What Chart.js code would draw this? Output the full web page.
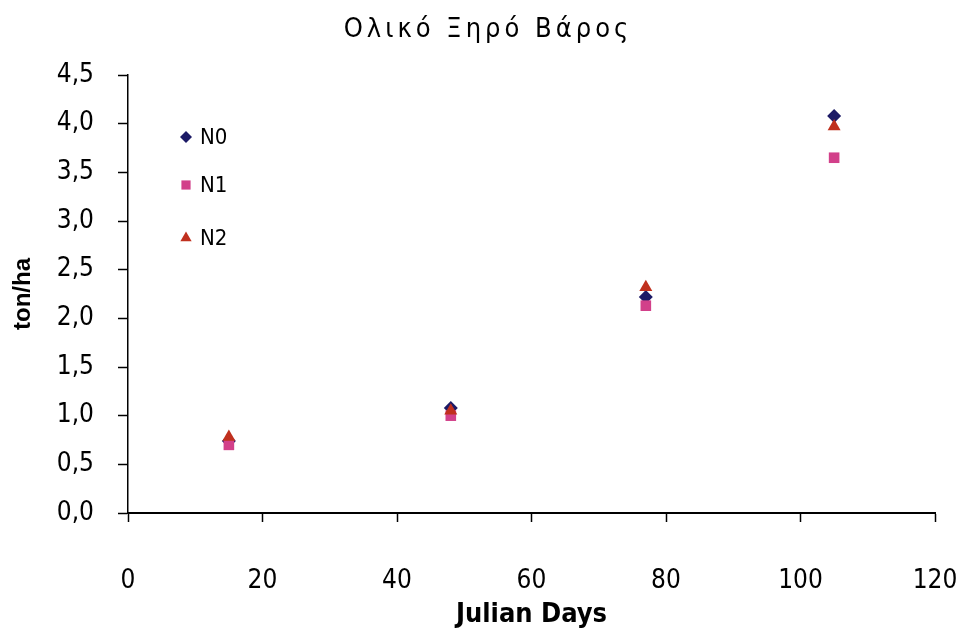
<!DOCTYPE html>
<html>
<head>
<meta charset="utf-8">
<script src="https://cdn.jsdelivr.net/npm/chart.js@4.4.1/dist/chart.umd.min.js"></script>
<style>
  html, body { margin: 0; padding: 0; background: #fff; }
</style>
</head>
<body>
<canvas id="myChart" width="962" height="633"></canvas>
<script>
// values
var chartTitle = 'Ολικό Ξηρό Βάρος';
var xTitle = 'Julian Days';
var yTitle = 'ton/ha';
var seriesNames = ['N0', 'N1', 'N2'];
var days = [15, 48, 77, 105];
var n0 = [0.74, 1.08, 2.22, 4.08];
var n1 = [0.70, 1.00, 2.13, 3.65];
var n2 = [0.78, 1.05, 2.32, 3.97];
var xTicks = [0, 20, 40, 60, 80, 100, 120];
var yTicks = [0, 0.5, 1, 1.5, 2, 2.5, 3, 3.5, 4, 4.5];

var narrow = "'Liberation Sans Narrow', 'DejaVu Sans Condensed', 'Arial Narrow', sans-serif";

function toPoints(ys) {
  return days.map(function(d, i) { return { x: d, y: ys[i] }; });
}

// title drawn by hand so it can get the wide letter spacing
var titlePlugin = {
  id: 'spacedTitle',
  afterDraw: function(chart) {
    var ctx = chart.ctx;
    ctx.save();
    ctx.font = '27px ' + narrow;
    ctx.fillStyle = '#000';
    ctx.textAlign = 'center';
    ctx.textBaseline = 'middle';
    ctx.letterSpacing = '4px';
    ctx.fillText(chartTitle, 488, 30);
    ctx.restore();
  }
};

// legend sits inside the plot, top left
var innerLegend = {
  id: 'innerLegend',
  afterDraw: function(chart) {
    var ctx = chart.ctx;
    var area = chart.chartArea;
    var rows = [62, 110, 163];
    ctx.save();
    chart.data.datasets.forEach(function(ds, i) {
      var x = area.left + 58;
      var y = area.top + rows[i];
      ctx.fillStyle = ds.backgroundColor;
      ctx.strokeStyle = ds.borderColor;
      Chart.helpers.drawPoint(ctx, { pointStyle: ds.pointStyle, radius: ds.pointRadius - 1, rotation: 0, borderWidth: 0 }, x, y);
      ctx.fillStyle = '#000';
      ctx.font = '22px ' + narrow;
      ctx.textAlign = 'left';
      ctx.textBaseline = 'middle';
      ctx.fillText(ds.label, x + 14, y + 1);
    });
    ctx.restore();
  }
};

var ctx = document.getElementById('myChart').getContext('2d');
var myChart = new Chart(ctx, {
  type: 'scatter',
  data: {
    datasets: [{
      label: seriesNames[0],
      data: toPoints(n0),
      pointStyle: 'rectRot',
      pointRadius: 7,
      backgroundColor: '#1c1a66',
      borderColor: '#1c1a66',
      borderWidth: 0,
      order: 2
    }, {
      label: seriesNames[1],
      data: toPoints(n1),
      pointStyle: 'rect',
      pointRadius: 7.5,
      backgroundColor: '#d2408a',
      borderColor: '#d2408a',
      borderWidth: 0,
      order: 1
    }, {
      label: seriesNames[2],
      data: toPoints(n2),
      pointStyle: 'triangle',
      pointRadius: 7.5,
      backgroundColor: '#c0301e',
      borderColor: '#c0301e',
      borderWidth: 0,
      order: 0
    }]
  },
  options: {
    responsive: false,
    animation: false,
    layout: { padding: { left: 0, right: 0, top: 75, bottom: 0 } },
    plugins: {
      legend: { display: false },
      title: { display: false },
      tooltip: { enabled: false }
    },
    scales: {
      x: {
        type: 'linear',
        min: 0,
        max: 120,
        afterBuildTicks: function(scale) {
          scale.ticks = xTicks.map(function(v) { return { value: v }; });
        },
        afterFit: function(scale) {
          scale.height = 633 - 513;
          scale.paddingRight = 27;
          scale.paddingLeft = 0;
        },
        grid: { drawOnChartArea: false, tickLength: 9, color: '#000', tickWidth: 1.5 },
        border: { display: true, color: '#000', width: 2 },
        ticks: { color: '#000', padding: 44, maxRotation: 0, font: { family: narrow, size: 26 } },
        title: { display: true, text: xTitle, color: '#000', padding: { top: 0, bottom: 2 }, font: { family: narrow, size: 27, weight: 'bold' } }
      },
      y: {
        min: 0,
        max: 4.5,
        afterBuildTicks: function(scale) {
          scale.ticks = yTicks.map(function(v) { return { value: v }; });
        },
        afterFit: function(scale) { scale.width = 128; },
        grid: { drawOnChartArea: false, tickLength: 10, color: '#000', tickWidth: 1.5 },
        border: { display: true, color: '#000', width: 1.5 },
        ticks: {
          color: '#000',
          padding: 24,
          font: { family: narrow, size: 26 },
          callback: function(v) { return v.toFixed(1).replace('.', ','); }
        },
        title: { display: true, text: yTitle, color: '#000', padding: { top: 9, bottom: 0 }, font: { family: "'Liberation Sans', Arial, sans-serif", size: 24, weight: 'bold' } }
      }
    }
  },
  plugins: [titlePlugin, innerLegend]
});
</script>
</body>
</html>
